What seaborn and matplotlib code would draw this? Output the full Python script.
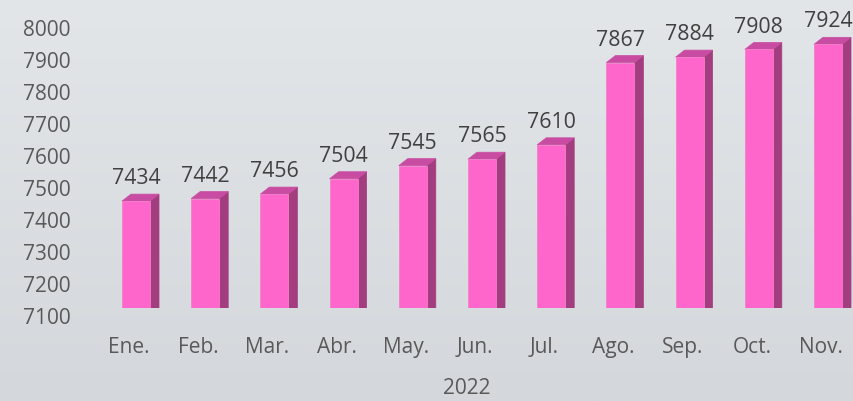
import numpy as np
import pandas as pd
import matplotlib
matplotlib.use("Agg")
import matplotlib.pyplot as plt
import matplotlib.transforms as mtransforms
from matplotlib.patches import Polygon
from matplotlib.colors import LinearSegmentedColormap
import seaborn as sns

months = ["Ene.", "Feb.", "Mar.", "Abr.", "May.", "Jun.", "Jul.", "Ago.", "Sep.", "Oct.", "Nov."]
values = [7434, 7442, 7456, 7504, 7545, 7565, 7610, 7867, 7884, 7908, 7924]
yticks = [7100, 7200, 7300, 7400, 7500, 7600, 7700, 7800, 7900, 8000]
year_label = "2022"

front_color = "#FF66CC"
side_color = "#A33D7F"
top_color = "#C94CA3"
text_color = "#595959"
label_color = "#404040"

sns.set_theme(style="white")
plt.rcParams["font.family"] = ["Open Sans", "DejaVu Sans"]

W, H = 854, 401
fig = plt.figure(figsize=(W / 100, H / 100), dpi=100)

# background gradient
bg = fig.add_axes([0, 0, 1, 1], zorder=-10)
grad = np.linspace(0, 1, 256).reshape(-1, 1)
cmap = LinearSegmentedColormap.from_list("bg", ["#E2E6E9", "#D4D8DC"])
bg.imshow(grad, aspect="auto", cmap=cmap, extent=[0, 1, 0, 1], origin="upper")
bg.axis("off")

left_px, bottom_px = 80, 308
ax = fig.add_axes([left_px / W, 1 - bottom_px / H, 1 - left_px / W, bottom_px / H])
ax.patch.set_alpha(0)

df = pd.DataFrame({"month": months, "value": values})
sns.barplot(data=df, x="month", y="value", color=front_color, saturation=1,
            width=0.405, ax=ax, zorder=3, edgecolor="#F080C8", linewidth=0.6)

spacing_px = 69.2
x0_px = 136
ax.set_xlim(-(x0_px - left_px) / spacing_px, (W - x0_px) / spacing_px)
ymin = yticks[0]
ymax = ymin + bottom_px / 0.32
ax.set_ylim(ymin, ymax)

# 3D depth
fig.canvas.draw()
inv = ax.transData.inverted()
p0 = inv.transform((0, 0))
p1 = inv.transform((9, 7))
dx, dy = p1[0] - p0[0], p1[1] - p0[1]
for bar in list(ax.patches):
    x = bar.get_x()
    w = bar.get_width()
    b = bar.get_y()
    t = b + bar.get_height()
    side = Polygon([(x + w, b), (x + w + dx, b + dy), (x + w + dx, t + dy), (x + w, t)],
                   closed=True, facecolor=side_color, edgecolor=side_color, lw=0.5, zorder=2)
    top = Polygon([(x, t), (x + dx, t + dy), (x + w + dx, t + dy), (x + w, t)],
                  closed=True, facecolor=top_color, edgecolor=top_color, lw=0.5, zorder=2)
    ax.add_patch(side)
    ax.add_patch(top)
    ax.annotate(f"{int(round(t))}", (x + w / 2, t + dy), xytext=(0, 3.5),
                textcoords="offset points", ha="center", va="bottom",
                fontsize=15.3, color=label_color)

ax.set_yticks(yticks)
ax.set_yticklabels([str(v) for v in yticks])
ax.tick_params(axis="y", length=0, pad=6.5, labelsize=15, labelcolor=text_color)
ax.tick_params(axis="x", length=0, pad=21, labelsize=15, labelcolor=text_color)
yoff = mtransforms.ScaledTranslation(0, -8 / 100, fig.dpi_scale_trans)
for lab in ax.get_yticklabels():
    lab.set_transform(lab.get_transform() + yoff)
xoff = mtransforms.ScaledTranslation(-7 / 100, 0, fig.dpi_scale_trans)
for lab in ax.get_xticklabels():
    lab.set_transform(lab.get_transform() + xoff)

ax.set_xlabel(year_label, fontsize=15, color=text_color, labelpad=14.5)
ax.set_ylabel("")
for s in ax.spines.values():
    s.set_visible(False)
ax.grid(False)

fig.savefig("out.png", dpi=100)
